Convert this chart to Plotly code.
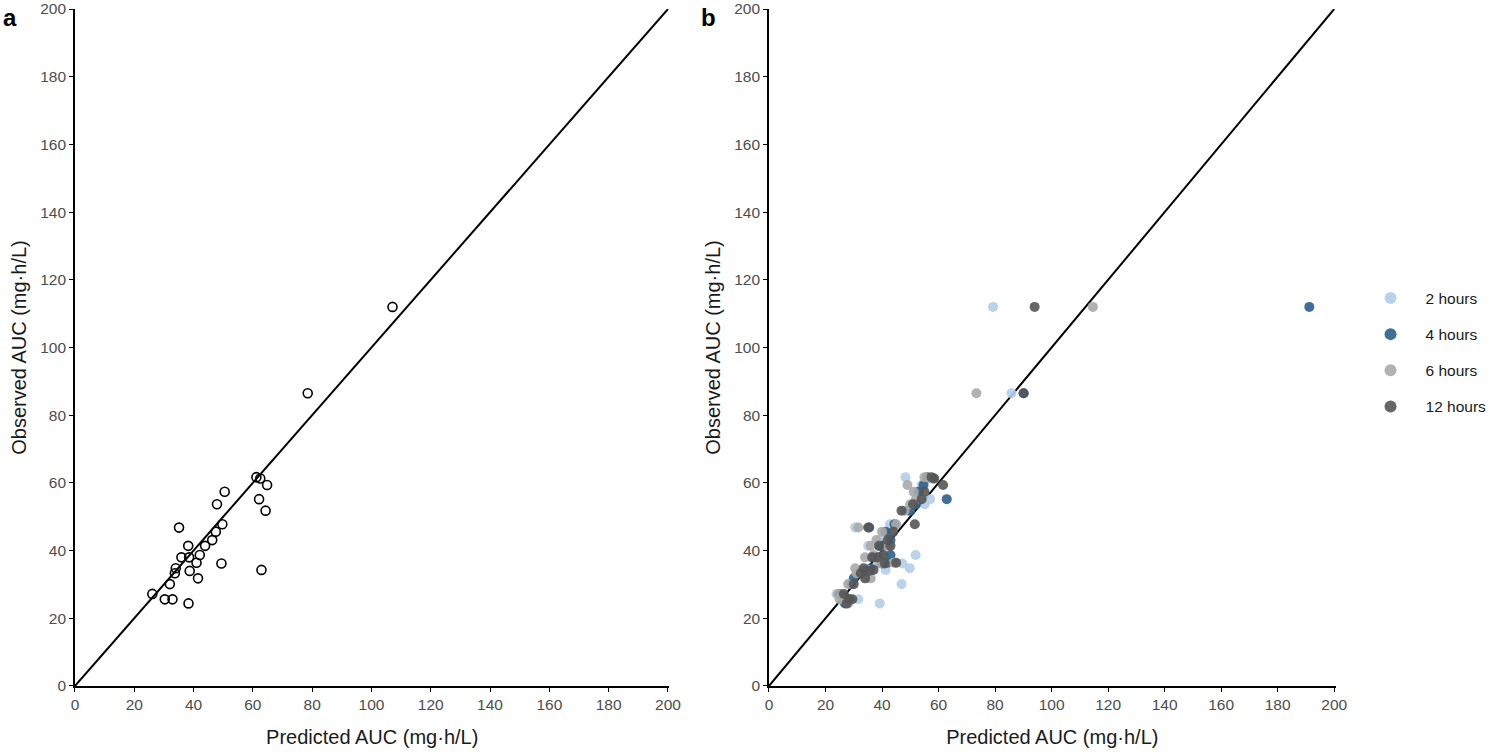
import plotly.graph_objects as go
from plotly.subplots import make_subplots

# observed AUC (mg·h/L), same for both panels
observed = [112, 86.5, 61.7, 61.3, 59.4, 57.4, 55.2, 53.7, 51.8, 47.8,
            46.8, 45.6, 43.1, 41.4, 41.4, 38.7, 38.0, 38.0, 36.4, 36.2,
            34.8, 34.3, 34.0, 33.3, 31.8, 30.1, 27.2, 25.6, 25.6, 24.4]

# panel a: predicted AUC
pred_a = [107.1, 78.5, 61.2, 62.5, 64.8, 50.5, 62.1, 47.9, 64.3, 49.7,
          35.1, 47.5, 46.3, 43.9, 38.2, 42.1, 35.9, 38.5, 41.0, 49.4,
          34.0, 62.9, 38.7, 33.7, 41.5, 32.0, 26.1, 30.3, 32.9, 38.3]

# panel b: predicted AUC by sampling time
pred_2h = [79.3, 85.8, 48.3, 56, 54, 52.5, 57, 55.1, 49, 42.8,
           30.5, 43, 39, 35.1, 40, 51.9, 37, 41, 44.9, 47.2,
           49.8, 41.3, 36, 32, 35, 46.9, 23.9, 31.6, 28, 39.2]
pred_4h = [191.2, 90.1, 56, 58, 54.7, 53, 62.9, 52, 50, 44.4,
           35.5, 41.2, 43, 40, 39, 43, 38, 37, 42, 40,
           36, 35, 34, 32, 30, 29, 25, 27.5, 28, 26.9]
pred_6h = [114.6, 73.4, 55, 57, 49, 51.2, 52, 50, 48, 45,
           31.6, 40, 38, 42, 36, 37, 40, 34, 44, 39,
           30.5, 35, 33, 31, 36, 28, 24.5, 25, 26.5, 28]
pred_12h = [94, 90.1, 57.5, 58.5, 61.6, 55, 54, 51, 46.9, 51.6,
            35.1, 44, 42, 43, 39, 40.5, 38.5, 36.5, 45, 41,
            33.5, 37, 35.5, 32.5, 34, 30, 26.5, 28.5, 29.5, 27.5]

series_names = ["2 hours", "4 hours", "6 hours", "12 hours"]
series_colors = ["#b4cdea", "#2d5f8b", "#aaaaaa", "#555555"]
identity = [0, 200]
ticks = [0, 20, 40, 60, 80, 100, 120, 140, 160, 180, 200]

fig = make_subplots(rows=1, cols=2)

# panel a
fig.add_trace(go.Scatter(x=identity, y=identity, mode="lines",
                         line=dict(color="black", width=2), showlegend=False,
                         hoverinfo="skip"), row=1, col=1)
fig.add_trace(go.Scatter(x=pred_a, y=observed, mode="markers",
                         marker=dict(symbol="circle-open", size=9, color="black",
                                     line=dict(width=1.6)),
                         showlegend=False), row=1, col=1)

# panel b
fig.add_trace(go.Scatter(x=identity, y=identity, mode="lines",
                         line=dict(color="black", width=2), showlegend=False,
                         hoverinfo="skip"), row=1, col=2)
for name, col, xs in zip(series_names, series_colors,
                         [pred_2h, pred_4h, pred_6h, pred_12h]):
    fig.add_trace(go.Scatter(x=xs, y=observed, mode="markers", name=name,
                             legendgroup=name,
                             marker=dict(size=10, color=col, opacity=0.9)),
                  row=1, col=2)

axis_style = dict(range=[0, 200.5], tickvals=ticks, showgrid=False, zeroline=False,
                  showline=True, linecolor="black", linewidth=1.5,
                  ticks="outside", ticklen=4, tickcolor="black", automargin=False,
                  tickfont=dict(size=15.5, color="#4d4d4d"))

fig.update_xaxes(**axis_style, title=dict(text="Predicted AUC (mg·h/L)",
                                          font=dict(size=20, color="#1a1a1a"),
                                          standoff=18))
fig.update_yaxes(**axis_style, title=dict(text="Observed AUC (mg·h/L)",
                                          font=dict(size=20, color="#1a1a1a"),
                                          standoff=8))
fig.update_yaxes(range=[0, 200])

fig.update_layout(
    width=1499, height=753,
    paper_bgcolor="white", plot_bgcolor="white",
    font=dict(family="Liberation Sans, Arial, sans-serif"),
    margin=dict(l=0, r=0, t=0, b=0),
    xaxis=dict(domain=[0.050, 0.4466]),
    xaxis2=dict(domain=[0.513, 0.891]),
    yaxis=dict(domain=[0.089, 0.988]),
    yaxis2=dict(domain=[0.089, 0.988]),
    legend=dict(x=0.9043, y=0.532, xanchor="left", yanchor="middle",
                font=dict(size=15.5, color="#1a1a1a"), tracegroupgap=13,
                itemsizing="constant", itemwidth=60),
    annotations=[
        dict(text="<b>a</b>", x=0.001, y=0.997, xref="paper", yref="paper",
             xanchor="left", yanchor="top", showarrow=False,
             font=dict(size=24, color="black")),
        dict(text="<b>b</b>", x=0.466, y=0.997, xref="paper", yref="paper",
             xanchor="left", yanchor="top", showarrow=False,
             font=dict(size=24, color="black")),
    ],
)

# page body has a default margin; drop it so the figure fills the window
fig.write_html("out.html", config={"displayModeBar": False},
               post_script="document.body.style.margin='0';")
